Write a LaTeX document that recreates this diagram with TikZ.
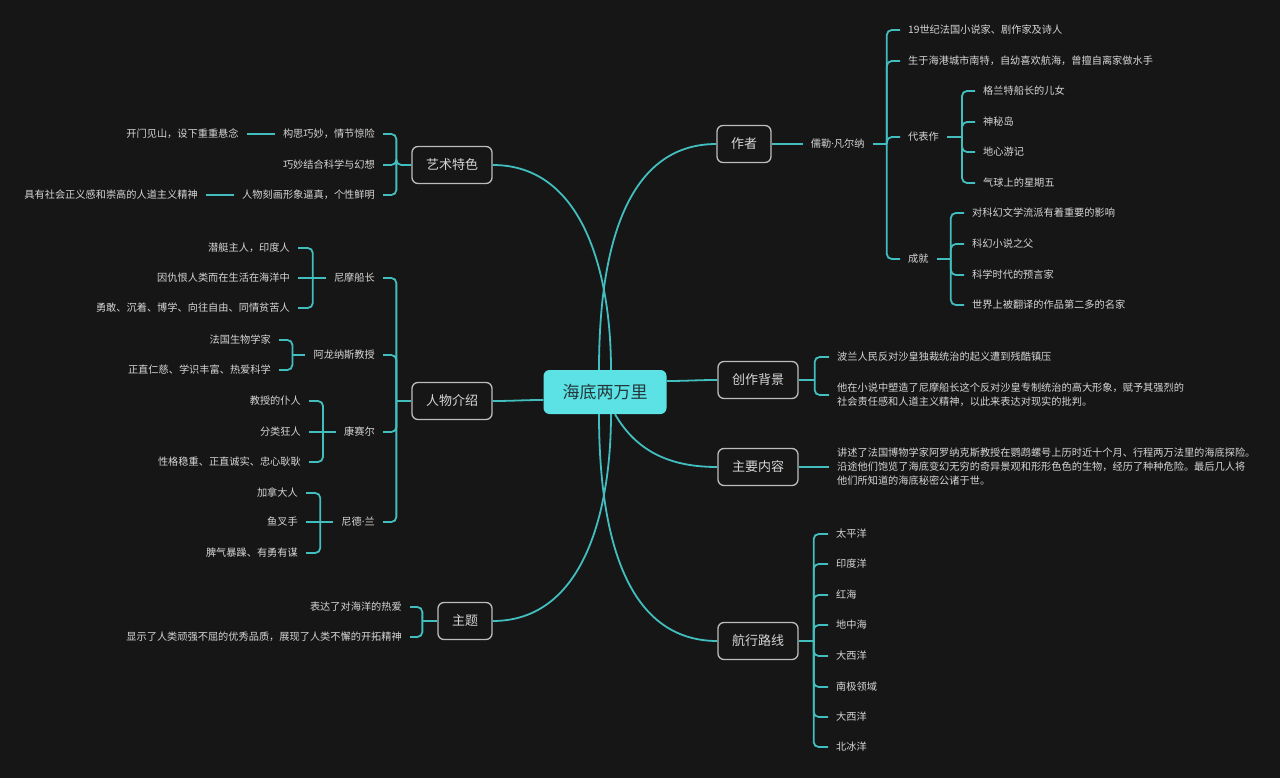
\documentclass[tikz,border=0pt]{standalone}
\usepackage{fontspec}
\setmainfont{Noto Sans CJK SC}
\newfontfamily\dotfont{Noto Sans}
\usetikzlibrary{positioning}

\definecolor{bgcol}{RGB}{22,22,22}
\definecolor{linecol}{RGB}{66,190,190}
\definecolor{rootcol}{RGB}{92,226,228}
\definecolor{roottext}{RGB}{36,56,60}
\definecolor{framecol}{RGB}{188,188,188}
\definecolor{textcol}{RGB}{214,214,214}

\begin{document}
\begin{tikzpicture}[
		x=1pt, y=-1pt,
		root/.style={fill=rootcol, text=roottext, rounded corners=6pt, inner xsep=19pt, minimum height=44pt, font=\fontsize{17}{20}\selectfont},
		topic/.style={draw=framecol, line width=1.3pt, fill=bgcol, text=textcol, rounded corners=6pt, inner xsep=14pt, minimum height=37pt, font=\fontsize{13}{15}\selectfont},
		leaf/.style={text=textcol, inner xsep=8pt, inner ysep=1pt, align=left, font=\fontsize{10.2}{14}\selectfont},
		link/.style={draw=linecol, line width=1.8pt, rounded corners=5pt},
		node distance=28pt
		]
		
		% background
		\fill[bgcol] (0,0) rectangle (1280,778);
		
		% root and main topics
		\node[root] (root) at (605,392) {海底两万里};
		\node[topic] (art) at (452,165) {艺术特色};
		\node[topic] (people) at (452,401) {人物介绍};
		\node[topic] (theme) at (465,621) {主题};
		\node[topic] (author) at (744,144) {作者};
		\node[topic] (bg) at (758,380) {创作背景};
		\node[topic] (plot) at (758,467) {主要内容};
		\node[topic] (route) at (758,641) {航行路线};
		
		% root -> topics
		\draw[link] (art.east) to[out=0, in=90] ([xshift=6pt]root.north);
		\draw[link] (author.west) to[out=180, in=90] ([xshift=-6pt]root.north);
		\draw[link] (people.east) to[out=0, in=180] ([yshift=-8pt]root.west);
		\draw[link] (bg.west) to[out=180, in=0] ([yshift=11pt]root.east);
		\draw[link] (plot.west) to[out=180, in=-60] ([xshift=10pt]root.south);
		\draw[link] (route.west) to[out=180, in=-90] ([xshift=-6pt]root.south);
		\draw[link] (theme.east) to[out=0, in=-90] ([xshift=6pt]root.south);
		
		% 艺术特色
		\node[leaf, anchor=east] (art1) at (383,134) {构思巧妙，情节惊险};
		\node[leaf, anchor=east] (art2) at (383,165) {巧妙结合科学与幻想};
		\node[leaf, anchor=east] (art3) at (383,195) {人物刻画形象逼真，个性鲜明};
		\node[leaf, left=of art1] (art1a) {开门见山，设下重重悬念};
		\node[leaf, left=of art3] (art3a) {具有社会正义感和崇高的人道主义精神};
		\draw[link] (art1.east) -| ([xshift=-15pt]art.west) |- (art3.east);
		\draw[link] (art.west) -- ++(-15,0) |- (art2.east);
		\draw[link] (art1.west) -- (art1a.east);
		\draw[link] (art3.west) -- (art3a.east);
		
		% 人物介绍
		\node[leaf, anchor=east] (nemo) at (383,278) {尼摩船长};
		\node[leaf, anchor=east] (prof) at (383,355) {阿龙纳斯教授};
		\node[leaf, anchor=east] (cons) at (383,432) {康赛尔};
		\node[leaf, anchor=east] (ned) at (383,522) {尼德{\dotfont ·}兰};
		\draw[link] (nemo.east) -| ([xshift=-15pt]people.west) |- (ned.east);
		\draw[link] (people.west) -- ++(-15,0);
		\draw[link] ([xshift=-15pt]people.west) |- (prof.east);
		\draw[link] ([xshift=-15pt]people.west) |- (cons.east);
		
		\node[leaf, anchor=east] (nemo1) at (298,248) {潜艇主人，印度人};
		\node[leaf, anchor=east] (nemo2) at (298,278) {因仇恨人类而在生活在海洋中};
		\node[leaf, anchor=east] (nemo3) at (298,308) {勇敢、沉着、博学、向往自由、同情贫苦人};
		\draw[link] (nemo1.east) -| ([xshift=-13pt]nemo.west) |- (nemo3.east);
		\draw[link] (nemo.west) -- (nemo2.east);
		
		\node[leaf, anchor=east] (prof1) at (279,340) {法国生物学家};
		\node[leaf, anchor=east] (prof2) at (279,370) {正直仁慈、学识丰富、热爱科学};
		\draw[link] (prof1.east) -| ([xshift=-13pt]prof.west) |- (prof2.east);
		\draw[link] (prof.west) -- ++(-13,0);
		
		\node[leaf, anchor=east] (cons1) at (309,401) {教授的仆人};
		\node[leaf, anchor=east] (cons2) at (309,432) {分类狂人};
		\node[leaf, anchor=east] (cons3) at (309,462) {性格稳重、正直诚实、忠心耿耿};
		\draw[link] (cons1.east) -| ([xshift=-13pt]cons.west) |- (cons3.east);
		\draw[link] (cons.west) -- (cons2.east);
		
		\node[leaf, anchor=east] (ned1) at (306,493) {加拿大人};
		\node[leaf, anchor=east] (ned2) at (306,522) {鱼叉手};
		\node[leaf, anchor=east] (ned3) at (306,553) {脾气暴躁、有勇有谋};
		\draw[link] (ned1.east) -| ([xshift=-13pt]ned.west) |- (ned3.east);
		\draw[link] (ned.west) -- (ned2.east);
		
		% 主题
		\node[leaf, anchor=east] (theme1) at (410,607) {表达了对海洋的热爱};
		\node[leaf, anchor=east] (theme2) at (410,637) {显示了人类顽强不屈的优秀品质，展现了人类不懈的开拓精神};
		\draw[link] (theme1.east) -| ([xshift=-15pt]theme.west) |- (theme2.east);
		\draw[link] (theme.west) -- ++(-15,0);
		
		% 作者
		\node[leaf, right=31pt of author] (verne) {儒勒{\dotfont ·}凡尔纳};
		\draw[link] (author.east) -- (verne.west);
		\node[leaf, anchor=west] (au1) at (900,30) {19世纪法国小说家、剧作家及诗人};
		\node[leaf, anchor=west] (au2) at (900,61) {生于海港城市南特，自幼喜欢航海，曾擅自离家做水手};
		\node[leaf, anchor=west] (works) at (900,137) {代表作};
		\node[leaf, anchor=west] (fame) at (900,259) {成就};
		\draw[link] (au1.west) -| ([xshift=14pt]verne.east) |- (fame.west);
		\draw[link] (verne.east) -- ++(14,0);
		\draw[link] ([xshift=14pt]verne.east) |- (au2.west);
		\draw[link] ([xshift=14pt]verne.east) |- (works.west);
		
		\node[leaf, anchor=west] (works1) at (975,91) {格兰特船长的儿女};
		\node[leaf, anchor=west] (works2) at (975,122) {神秘岛};
		\node[leaf, anchor=west] (works3) at (975,152) {地心游记};
		\node[leaf, anchor=west] (works4) at (975,183) {气球上的星期五};
		\draw[link] (works1.west) -| ([xshift=15pt]works.east) |- (works4.west);
		\draw[link] (works.east) -- ++(15,0);
		\draw[link] ([xshift=15pt]works.east) |- (works2.west);
		\draw[link] ([xshift=15pt]works.east) |- (works3.west);
		
		\node[leaf, anchor=west] (fame1) at (964,213) {对科幻文学流派有着重要的影响};
		\node[leaf, anchor=west] (fame2) at (964,244) {科幻小说之父};
		\node[leaf, anchor=west] (fame3) at (964,275) {科学时代的预言家};
		\node[leaf, anchor=west] (fame4) at (964,305) {世界上被翻译的作品第二多的名家};
		\draw[link] (fame1.west) -| ([xshift=14pt]fame.east) |- (fame4.west);
		\draw[link] (fame.east) -- ++(14,0);
		\draw[link] ([xshift=14pt]fame.east) |- (fame2.west);
		\draw[link] ([xshift=14pt]fame.east) |- (fame3.west);
		
		% 创作背景
		\node[leaf, anchor=west] (bg1) at (829,357) {波兰人民反对沙皇独裁统治的起义遭到残酷镇压};
		\node[leaf, anchor=west] (bg2) at (829,395) {他在小说中塑造了尼摩船长这个反对沙皇专制统治的高大形象，赋予其强烈的\\社会责任感和人道主义精神，以此来表达对现实的批判。};
		\draw[link] (bg1.west) -| ([xshift=16pt]bg.east) |- (bg2.west);
		\draw[link] (bg.east) -- ++(16,0);
		
		% 主要内容
		\node[leaf, anchor=west] (plot1) at (829,467) {讲述了法国博物学家阿罗纳克斯教授在鹦鹉螺号上历时近十个月、行程两万法里的海底探险。\\沿途他们饱览了海底变幻无穷的奇异景观和形形色色的生物，经历了种种危险。最后几人将\\他们所知道的海底秘密公诸于世。};
		\draw[link] (plot.east) -- (plot1.west);
		
		% 航行路线
		\node[leaf, anchor=west] (rt1) at (828,534) {太平洋};
		\node[leaf, anchor=west] (rt2) at (828,564) {印度洋};
		\node[leaf, anchor=west] (rt3) at (828,595) {红海};
		\node[leaf, anchor=west] (rt4) at (828,625) {地中海};
		\node[leaf, anchor=west] (rt5) at (828,656) {大西洋};
		\node[leaf, anchor=west] (rt6) at (828,687) {南极领域};
		\node[leaf, anchor=west] (rt7) at (828,717) {大西洋};
		\node[leaf, anchor=west] (rt8) at (828,747) {北冰洋};
		\draw[link] (rt1.west) -| ([xshift=15pt]route.east) |- (rt8.west);
		\draw[link] (route.east) -- ++(15,0);
		\draw[link] ([xshift=15pt]route.east) |- (rt2.west);
		\draw[link] ([xshift=15pt]route.east) |- (rt3.west);
		\draw[link] ([xshift=15pt]route.east) |- (rt4.west);
		\draw[link] ([xshift=15pt]route.east) |- (rt5.west);
		\draw[link] ([xshift=15pt]route.east) |- (rt6.west);
		\draw[link] ([xshift=15pt]route.east) |- (rt7.west);
		
	\end{tikzpicture}
\end{document}
